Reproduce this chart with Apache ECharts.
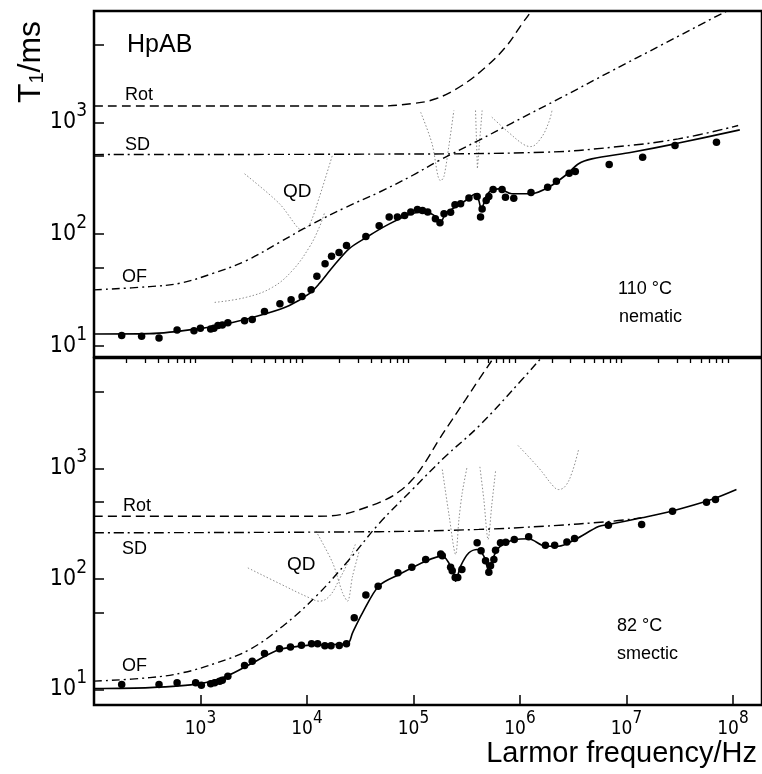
<!DOCTYPE html>
<html><head><meta charset="utf-8">
<script src="https://cdn.jsdelivr.net/npm/echarts@6/dist/echarts.min.js"></script>
<style>html,body{margin:0;padding:0;background:#fff}#c{width:762px;height:774px}</style>
</head><body><div id="c"></div>
<script>
// ---------- axes ----------
const xMajor = [1e3, 1e4, 1e5, 1e6, 1e7, 1e8];
const xMinor = [200,300,400,500,600,700,800,900,
  2000,3000,4000,5000,6000,7000,8000,9000,
  2e4,3e4,4e4,5e4,6e4,7e4,8e4,9e4,
  2e5,3e5,4e5,5e5,6e5,7e5,8e5,9e5,
  2e6,3e6,4e6,5e6,6e6,7e6,8e6,9e6,
  2e7,3e7,4e7,5e7,6e7,7e7,8e7,9e7];
const yTicks = [10, 50, 100, 500, 1000, 5000];
const yLabels = [10, 100, 1000];

// ---------- 110 °C nematic (top) ----------
const nemPoints = [[182,12.3],[280,12.1],[408,11.7],[603,13.8],[869,13.6],[998,14.3],[1247,14.1],[1337,14.3],[1459,15.1],[1603,15.3],[1807,16.0],[2594,16.7],[3062,17.1],[3990,20.2],[5572,23.7],[7096,25.8],[8995,27.6],[10940,31.6],[12390,41.8],[14790,54.1],[17020,63.1],[20000,68.2],[23500,78.9],[35730,95.3],[47640,119],[59160,142],[70630,142],[82600,147],[94400,158],[108900,166],[121600,163],[136100,158],[160700,137],[177400,126],[193600,152],[223400,157],[245500,183],[277300,187],[331900,211],[396300,217],[426600,142],[441600,168],[482000,200],[510500,217],[559800,251],[679200,251],[731100,214],[875000,209],[1270000,236],[1820000,263],[2200000,298],[2900000,351],[3310000,364],[6890000,420],[14200000,489],[28600000,622],[70100000,665]];
const nemFit = [[100,12.7],[334,12.8],[984,14.2],[2000,16.1],[4169,19.4],[6839,22.9],[10520,29.2],[13060,36.0],[17300,50.1],[24950,74.1],[35970,93.1],[55340,119],[97050,153],[131200,157],[156000,147],[180300,128],[200400,152],[309000,200],[385500,230],[411100,200],[434500,166],[467700,200],[510500,237],[632400,254],[837500,230],[1288000,230],[1862000,263],[2667000,335],[3556000,427],[4732000,472],[11220000,542],[28580000,644],[116100000,859]];
const nemRot = [[100,1406],[47600,1406],[97000,1479],[161800,1633],[285000,2148],[475000,3133],[731000,4732],[1047000,7674],[1253000,9750],[1346000,11200]];
const nemSD = [[100,516],[47640,521],[1735000,542],[7280000,600],[30700000,714],[112000000,940]];
const nemOF = [[100,31.6],[334,33.8],[638,36.2],[1309,44.4],[2692,57.8],[5521,84.3],[10520,119],[23230,174],[47640,237],[97700,335],[173800,456],[411100,693],[843000,990],[2478000,1687],[7280000,2904],[21430000,4966],[78000000,9440],[130000000,12000]];
const nemQD1 = [[2594,347],[5521,187],[8130,115],[8900,109],[10520,121],[13060,214],[17300,506]];
const nemQD2 = [[1359,24.4],[2692,27.1],[4742,33.3],[7295,47.1],[10520,76.2],[13060,115],[14550,153]];
const nemQD3 = [[116900,1236],[149300,649],[170000,330],[180000,300],[193600,330],[215400,622],[239600,1282]];
const nemQD4 = [[382800,1282],[398500,385],[441600,1282]];
const nemQD5 = [[544500,1117],[785200,813],[1086000,635],[1262000,609],[1566000,719],[1862000,1000],[2000000,1282]];

// ---------- 82 °C smectic (bottom) ----------
const smPoints = [[182,11.1],[408,11.1],[603,11.5],[901,11.5],[1019,10.9],[1247,11.3],[1359,11.5],[1514,11.9],[1603,12.1],[1807,13.2],[2594,16.5],[3062,18.0],[3990,21.2],[5521,23.4],[6998,24.3],[8872,25.1],[11040,25.9],[12590,26.0],[14720,24.9],[16830,24.9],[20110,25.0],[23500,26.0],[27800,44.6],[35730,71.6],[46630,86.1],[71450,114],[96600,128],[130300,150],[180300,168],[186600,162],[223400,128],[231200,119],[246600,103],[260600,103],[285100,122],[396300,213],[431500,180],[475400,146],[510500,115],[529700,132],[568900,150],[590200,182],[656700,213],[736000,215],[885000,228],[1208000,241],[1734000,202],[2118000,202],[2761000,216],[3258000,233],[6770000,306],[13900000,311],[27100000,411],[56500000,495],[68600000,524]];
const smFit = [[100,10.2],[334,10.4],[984,11.3],[1750,13.2],[3083,17.4],[5521,23.0],[10520,25.2],[24050,26.1],[26790,32.6],[33230,49.4],[47640,87.3],[73280,110],[130300,145],[186600,161],[231200,122],[248900,95.5],[277300,131],[331900,173],[396300,185],[458100,161],[510500,118],[568900,161],[656700,198],[907800,228],[1208000,231],[1734000,198],[2306000,198],[3311000,228],[5470000,298],[6770000,311],[13900000,358],[26500000,411],[63000000,524],[108000000,645]];
const smRot = [[100,370],[12160,370],[21400,384],[35730,444],[54950,524],[73280,619],[97700,794],[130300,1156],[173800,1828],[231200,2773],[309000,4207],[411100,6383],[568900,10120],[632000,11940]];
const smSD = [[100,262],[47640,268],[411100,281],[1734000,301],[7280000,333],[13900000,358]];
const smOF = [[100,11.9],[334,12.8],[685,14.2],[1409,17.4],[2893,23.0],[5916,37.4],[12160,69.8],[24950,150],[47640,318],[97700,645],[200400,1291],[411100,2415],[1047000,6383],[1600000,10120],[1862000,11940]];
const smQD1 = [[2786,126],[5521,91.0],[10520,67.6],[13060,63.0],[16220,69.8],[20110,98.9],[24950,150],[28840,213]];
const smQD2 = [[12160,271],[17420,140],[21580,75],[24050,63],[26790,106],[30970,179]];
const smQD3 = [[186600,979],[215400,384],[248900,167],[267300,345],[287100,603],[319900,1050]];
const smQD4 = [[420700,1035],[458100,524],[502300,228],[544500,472],[590200,946]];
const smQD5 = [[959500,1614],[1500000,1014],[2070000,687],[2306000,645],[2667000,692],[3077000,914],[3556000,1486]];

// ---------- styles ----------
const FONT = 'Liberation Sans';
const NUMFONT = "'Liberation Sans Narrow', 'DejaVu Sans Condensed', 'Liberation Sans'";
const sSolid = {color:'#000', width:1.6, type:'solid'};
const sRot = {color:'#000', width:1.4, type:[9,5]};
const sSD = {color:'#000', width:1.4, type:[10,4,2,4]};
const sOF = {color:'#000', width:1.4, type:[8,4,2,4]};
const sQD = {color:'#8c8c8c', width:1, type:[1.5,2]};

function line(data, g, style, smooth, z) {
  return {type:'line', xAxisIndex: g === 0 ? 0 : 1, yAxisIndex: g, data: data,
    showSymbol:false, smooth: smooth, lineStyle: style, silent:true, z: z, clip:true};
}
function dots(data, g) {
  return {type:'scatter', xAxisIndex: g === 0 ? 0 : 1, yAxisIndex: g, data: data,
    symbol:'circle', symbolSize:7.5, itemStyle:{color:'#000', opacity:1}, silent:true, z:10};
}
const pow = v => '{b|10}{s|' + Math.round(Math.log10(v)) + '}';
const richX = {b:{fontSize:19, fontFamily:NUMFONT, color:'#000', lineHeight:24},
               s:{fontSize:17, fontFamily:NUMFONT, color:'#000', lineHeight:18, padding:[0,0,20,0]}};
const richY = {b:{fontSize:23, fontFamily:NUMFONT, color:'#000', lineHeight:26},
               s:{fontSize:19, fontFamily:NUMFONT, color:'#000', lineHeight:20, padding:[0,0,22,0]}};

const XMAX = 1.876e8;
function txt(t, x, y, size, align) {
  return {type:'text', x:x, y:y, silent:true, style:{text:t, fill:'#000', font: size + 'px "' + FONT + '"', textAlign: align || 'left', textVerticalAlign:'middle'}};
}

const option = {
  animation:false,
  backgroundColor:'#fff',
  grid:[
    {left:94, top:11, width:670, height:346, show:true, borderColor:'#000', borderWidth:2.5, backgroundColor:'transparent'},
    {left:94, top:358, width:670, height:347, show:true, borderColor:'#000', borderWidth:2.5, backgroundColor:'transparent'}
  ],
  xAxis:[
    {type:'log', gridIndex:0, min:100, max:XMAX, axisLine:{show:false}, axisTick:{show:false}, axisLabel:{show:false}, splitLine:{show:false}},
    {type:'log', gridIndex:1, min:100, max:XMAX, axisLine:{show:false}, splitLine:{show:false},
      axisTick:{show:true, inside:true, length:10, lineStyle:{color:'#000', width:1.5}, customValues:xMajor},
      axisLabel:{show:true, margin:12, customValues:xMajor, formatter:pow, rich:richX}},
    {type:'log', gridIndex:1, min:100, max:XMAX, axisLine:{show:false}, splitLine:{show:false},
      axisTick:{show:true, inside:true, length:5, lineStyle:{color:'#000', width:1.3}, customValues:xMinor},
      axisLabel:{show:false}}
  ],
  yAxis:[
    {type:'log', gridIndex:0, min:7.9, max:10000, axisLine:{show:false}, splitLine:{show:false},
      axisTick:{show:true, inside:true, length:10, lineStyle:{color:'#000', width:1.5}, customValues:yTicks},
      axisLabel:{show:true, margin:7, customValues:yLabels, formatter:pow, rich:richY}},
    {type:'log', gridIndex:1, min:7.24, max:10000, axisLine:{show:false}, splitLine:{show:false},
      axisTick:{show:true, inside:true, length:10, lineStyle:{color:'#000', width:1.5}, customValues:yTicks},
      axisLabel:{show:true, margin:7, customValues:yLabels, formatter:pow, rich:richY}}
  ],
  series:[
    line(nemQD1,0,sQD,0.3,1), line(nemQD2,0,sQD,0.4,1), line(nemQD3,0,sQD,0.3,1), line(nemQD4,0,sQD,false,1), line(nemQD5,0,sQD,0.4,1),
    line(nemRot,0,sRot,0.4,3), line(nemSD,0,sSD,0.4,3), line(nemOF,0,sOF,0.4,3), line(nemFit,0,sSolid,0.3,4),
    dots(nemPoints,0),
    line(smQD1,1,sQD,0.4,1), line(smQD2,1,sQD,0.3,1), line(smQD3,1,sQD,0.3,1), line(smQD4,1,sQD,0.3,1), line(smQD5,1,sQD,0.4,1),
    line(smRot,1,sRot,0.4,3), line(smSD,1,sSD,0.4,3), line(smOF,1,sOF,0.4,3), line(smFit,1,sSolid,0.3,4),
    dots(smPoints,1)
  ],
  graphic:[
    txt('HpAB', 127, 45, 25),
    txt('Rot', 125, 95, 18), txt('SD', 125, 145, 18), txt('QD', 283, 192, 19), txt('OF', 122, 277, 18),
    txt('110 °C', 618, 289, 18), txt('nematic', 619, 317, 18),
    txt('Rot', 123, 506, 18), txt('SD', 122, 549, 18), txt('QD', 287, 565, 19), txt('OF', 122, 666, 18),
    txt('82 °C', 617, 626, 18), txt('smectic', 617, 654, 18),
    txt('Larmor frequency/Hz', 757, 754, 29, 'right'),
    {type:'text', x:31, y:62, rotation:Math.PI/2, silent:true,
      style:{text:'{a|T}{b|1}{a|/ms}', textAlign:'center', textVerticalAlign:'middle',
        rich:{a:{fontSize:32, fontFamily:FONT, color:'#000', lineHeight:36}, b:{fontSize:20, fontFamily:FONT, color:'#000', padding:[12,0,0,0]}}}}
  ]
};
const chart = echarts.init(document.getElementById('c'), null, {renderer:'canvas'});
chart.setOption(option);
</script></body></html>
